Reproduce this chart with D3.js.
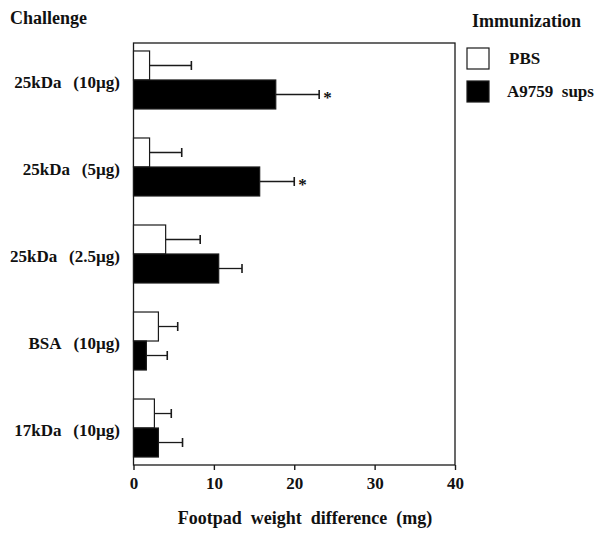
<!DOCTYPE html>
<html><head><meta charset="utf-8">
<script src="https://cdn.jsdelivr.net/npm/d3@7"></script>
<style>body{margin:0;background:#fff}svg{display:block}text{font-family:"Liberation Serif","Times New Roman",serif;font-weight:bold;fill:#111}</style>
</head><body><svg id="c" width="602" height="538"></svg>
<script>
const categories = ["25kDa\u2002\u2009(10\u00b5g)", "25kDa\u2002\u2009(5\u00b5g)", "25kDa\u2002\u2009(2.5\u00b5g)", "BSA\u2002\u2009(10\u00b5g)", "17kDa\u2002\u2009(10\u00b5g)"];
const seriesNames = ["PBS", "A9759\u2002sups"];
const pbsValues = [2.0, 2.0, 4.0, 3.1, 2.6];
const pbsErrors = [5.2, 4.0, 4.3, 2.4, 2.1];
const supValues = [17.7, 15.7, 10.6, 1.6, 3.1];
const supErrors = [5.4, 4.3, 2.9, 2.6, 3.0];
const significant = [true, true, false, false, false];
const xTicks = [0, 10, 20, 30, 40];

const svg = d3.select("#c");
const L = 133.5, R = 455, T = 43, B = 465;
const x = d3.scaleLinear().domain([0, 40]).range([L, R]);
const y = d3.scalePoint().domain(categories).range([T, B]).padding(0.425);
const barH = 29;
const ink = "#1a1a1a";

// frame
svg.append("rect").attr("x", L).attr("y", T).attr("width", R - L).attr("height", B - T)
  .attr("fill", "none").attr("stroke", ink).attr("stroke-width", 1.3);

const rows = categories.map((c, i) => ({c, i}));
const series = [
  {vals: pbsValues, errs: pbsErrors, fill: "#fff", off: -barH},
  {vals: supValues, errs: supErrors, fill: "#000", off: 0}
];
series.forEach(s => {
  const g = svg.append("g");
  rows.forEach(r => {
    const y0 = y(r.c) + s.off;
    const v = s.vals[r.i], e = s.errs[r.i];
    const yc = y0 + barH / 2;
    g.append("line").attr("x1", x(v)).attr("x2", x(v + e)).attr("y1", yc).attr("y2", yc)
      .attr("stroke", ink).attr("stroke-width", 1.3);
    g.append("line").attr("x1", x(v + e)).attr("x2", x(v + e)).attr("y1", yc - 4.5).attr("y2", yc + 4.5)
      .attr("stroke", ink).attr("stroke-width", 1.6);
    g.append("rect").attr("x", x(0)).attr("y", y0).attr("width", x(v) - x(0)).attr("height", barH)
      .attr("fill", s.fill).attr("stroke", ink).attr("stroke-width", 1.2);
  });
});

// significance stars
rows.forEach(r => {
  if (significant[r.i]) {
    svg.append("text").attr("x", x(supValues[r.i] + supErrors[r.i]) + 4).attr("y", y(r.c) + barH / 2 + 9)
      .attr("font-size", 17).text("*");
  }
});

// left axis labels
rows.forEach(r => {
  svg.append("text").attr("x", 120).attr("y", y(r.c) + 8).attr("text-anchor", "end")
    .attr("font-size", 17).text(r.c);
});

// x axis
const xAxis = d3.axisBottom(x).tickValues(xTicks).tickSize(5).tickPadding(7).tickFormat(d3.format("d"));
const ax = svg.append("g").attr("transform", `translate(0,${B})`).call(xAxis);
ax.select(".domain").remove();
ax.selectAll(".tick line").attr("stroke", ink).attr("stroke-width", 1.4);
ax.selectAll(".tick text").attr("font-size", 17).attr("font-family", "Liberation Serif").attr("font-weight", "bold").attr("fill", "#111");

svg.append("text").attr("x", 305).attr("y", 524).attr("text-anchor", "middle").attr("font-size", 18)
  .text("Footpad\u2002weight\u2002difference\u2002(mg)");
svg.append("text").attr("x", 10).attr("y", 24).attr("font-size", 18).text("Challenge");
svg.append("text").attr("x", 472).attr("y", 27).attr("font-size", 18).text("Immunization");

// legend
const leg = [{name: seriesNames[0], fill: "#fff", y: 48, tx: 509}, {name: seriesNames[1], fill: "#000", y: 81, tx: 507}];
leg.forEach(d => {
  svg.append("rect").attr("x", 467).attr("y", d.y).attr("width", 22).attr("height", 21)
    .attr("fill", d.fill).attr("stroke", ink).attr("stroke-width", 1.2);
  svg.append("text").attr("x", d.tx).attr("y", d.y + 16).attr("font-size", 17).text(d.name);
});
</script></body></html>
